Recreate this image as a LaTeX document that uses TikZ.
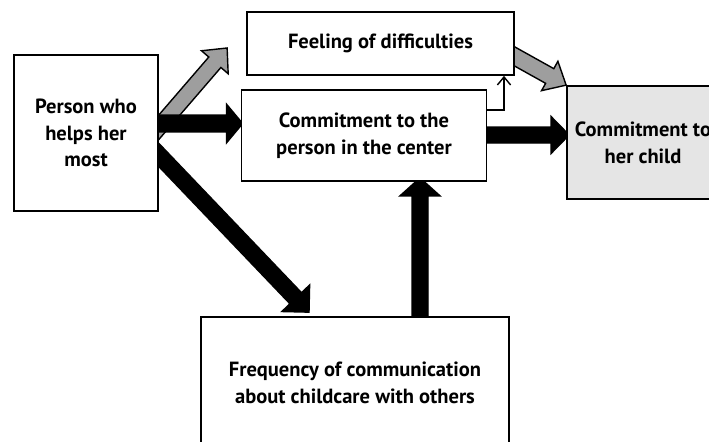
\documentclass[tikz,border=0pt]{standalone}
\usepackage{fontspec}
\setmainfont{PT Sans}
\usetikzlibrary{calc,arrows.meta,backgrounds}
\tikzset{
  box/.style = {draw, line width=1.2pt, fill=white, align=center,
                inner sep=2pt, font=\bfseries\fontsize{14.6}{19}\selectfont},
  grayarrow/.style = {draw=black, line width=1pt, fill=black!38},
  blackarrow/.style = {draw=black, line width=1pt, fill=black}
}
% block arrow: [style]{from}{to}{half shaft}{half head}{head length}
\newcommand\blockarrow[6][]{%
  \coordinate (neck) at ($(#3)!#6!(#2)$);
  \draw[#1] ($(#2)!#4!90:(#3)$) -- ($(neck)!#4!90:(#3)$)
    -- ($(neck)!#5!90:(#3)$) -- (#3)
    -- ($(neck)!#5!-90:(#3)$) -- ($(neck)!#4!-90:(#3)$)
    -- ($(#2)!#4!-90:(#3)$) -- cycle;
}

\begin{document}
\begin{tikzpicture}[x=0.025cm, y=-0.025cm]
	\useasboundingbox (0,0) rectangle (709,441);

	% Boxes
	\node[box, minimum width=3.6cm, minimum height=3.9cm] (help) at (86,133) {Person who\\helps her\\most};
	\node[box, minimum width=6.675cm, minimum height=1.575cm] (feel) at (380.5,43.5) {Feeling of difficulties};
	\node[box, minimum width=6.125cm, minimum height=2.275cm] (commit) at (364,135.5) {Commitment to the\\person in the center};
	\node[box, fill=black!10, minimum width=3.8cm, minimum height=2.825cm] (child) at (643,142.5) {Commitment to\\her child};
	\node[box, minimum width=7.7cm, minimum height=3.3cm] (freq) at (355,383) {Frequency of communication\\about childcare with others};

	% Arrows (behind the boxes)
	\begin{scope}[on background layer]
		\blockarrow[grayarrow]{$(help.east)+(-10,5.8)$}{$(feel.west)+(-19,4.5)$}{0.2cm}{0.44cm}{0.47cm}
		\blockarrow[grayarrow]{$(feel.east)+(-10,7.5)$}{child.north west}{0.21cm}{0.42cm}{0.47cm}
		\blockarrow[blackarrow]{$(help.east)+(-10,-9.5)$}{$(commit.west)+(2,-12)$}{0.21cm}{0.48cm}{0.4cm}
		\blockarrow[blackarrow]{$(commit.east)+(-10,-0.5)$}{$(child.west)+(3,-7.5)$}{0.2cm}{0.46cm}{0.45cm}
		\blockarrow[blackarrow]{$(help.east)+(-10,11.5)$}{$(freq.north)+(-46,-4)$}{0.2cm}{0.48cm}{0.48cm}
		\blockarrow[blackarrow]{$(freq.north)+(65,10)$}{$(commit.south)+(56,-4)$}{0.2cm}{0.5cm}{0.45cm}
	\end{scope}

	% Thin link to the upper box
	\draw[line width=1pt, -{Straight Barb[length=0.2cm, width=0.33cm]}] ($(commit.east)+(0,-25.5)$) -| ($(feel.south)+(123.5,0)$);
\end{tikzpicture}
\end{document}
